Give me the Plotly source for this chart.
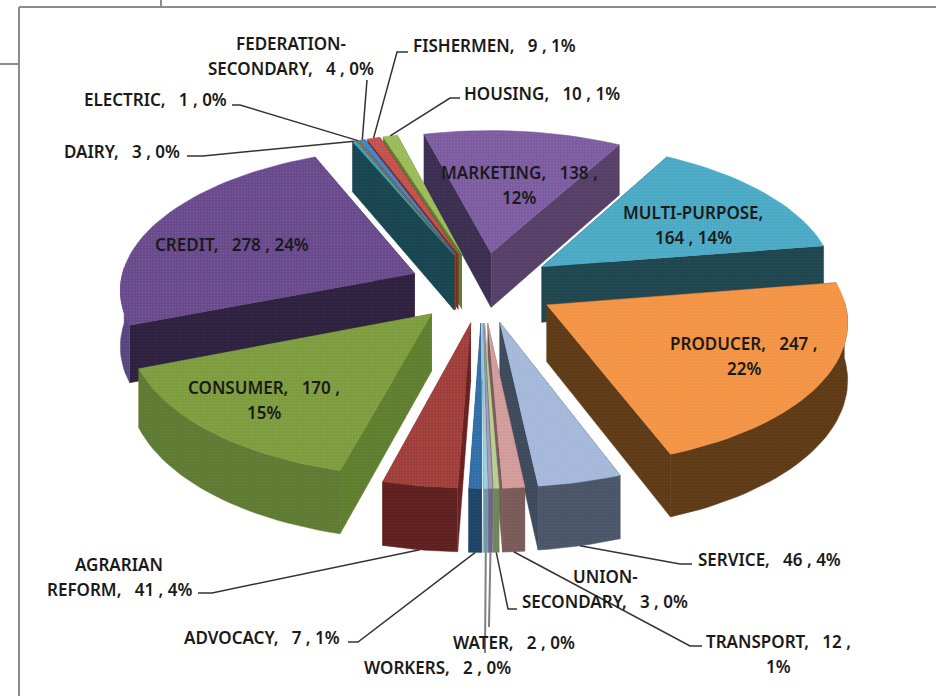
import math
import plotly.graph_objects as go

# values clockwise from the first slice (Excel keeps them alphabetical)
categories = ["ADVOCACY", "AGRARIAN REFORM", "CONSUMER", "CREDIT", "DAIRY", "ELECTRIC",
              "FEDERATION-SECONDARY", "FISHERMEN", "HOUSING", "MARKETING", "MULTI-PURPOSE",
              "PRODUCER", "SERVICE", "TRANSPORT", "UNION-SECONDARY", "WATER", "WORKERS"]
values = [7, 41, 170, 278, 3, 1, 4, 9, 10, 138, 164, 247, 46, 12, 3, 2, 2]
top_colors = ["#2f6ea8", "#9f3d3a", "#7d9c3d", "#69498c", "#3f9db5", "#c8742f", "#3f86c8",
              "#c2504c", "#9bbb59", "#7d5ba0", "#4aa9c4", "#f39343", "#a4b8da", "#d19b9a",
              "#b9cc92", "#a898c0", "#9ad0de"]
start_wall = ["#1d4468", "#6a1f1f", "#5f7f2f", "#2e2140", "#174550", "#6a3d12", "#2a5a88",
              "#7a2c2a", "#5f7a30", "#3b2e50", "#1f4650", "#5e3a16", "#3e4a5c", "#7a5a58",
              "#6f8458", "#6f6488", "#6a9aa8"]
end_wall = ["#1d4468", "#7a2a28", "#5f7f2f", "#2e2140", "#174550", "#6a3d12", "#2a5a88",
            "#7a2c2a", "#5f7a30", "#564068", "#1f4650", "#5e3a16", "#3e4a5c", "#7a5a58",
            "#6f8458", "#6f6488", "#6a9aa8"]
arc_wall = ["#1d4468", "#5e1f1f", "#5f7b33", "#5a4480", "#174550", "#6a3d12", "#2a5a88",
            "#7a2c2a", "#5f7a30", "#564068", "#1f4650", "#5e3a16", "#4a5568", "#7a5a58",
            "#6f8458", "#6f6488", "#6a9aa8"]

# text of each label, its centre, and the bend and end of its leader line
label_text = ["ADVOCACY,  7 , 1%", "AGRARIAN<br>REFORM,  41 , 4%", "CONSUMER,  170 ,<br>15%",
              "CREDIT,  278 , 24%", "DAIRY,  3 , 0%", "ELECTRIC,  1 , 0%",
              "FEDERATION-<br>SECONDARY,  4 , 0%", "FISHERMEN,  9 , 1%", "HOUSING,  10 , 1%",
              "MARKETING,  138 ,<br>12%", "MULTI-PURPOSE,<br>164 , 14%", "PRODUCER,  247 ,<br>22%",
              "SERVICE,  46 , 4%", "TRANSPORT,  12 ,<br>1%", "UNION-<br>SECONDARY,  3 , 0%",
              "WATER,  2 , 0%", "WORKERS,  2 , 0%"]
label_x = [262, 119, 264, 232, 122, 155, 291, 494, 542, 519, 693, 744, 769, 778, 605, 514, 437]
label_y = [637, 576.5, 399.5, 244, 151, 99, 55.5, 45, 93, 184.5, 224.5, 355.5, 559, 653.5, 588.5, 642, 667]
bend_x = [358, 212, None, None, 203, 240, 367, 397, 450, None, None, None, 680, 690, 508, 489, 485]
bend_y = [642, 593, None, None, 156, 105, 80, 52, 98, None, None, None, 564, 646, 609, 627, 653]
end_x = [348, 198, None, None, 187, 232, 367, 408, 460, None, None, None, 692, 702, 517, 489, 485]

CX, CY, RX, RY = 482, 287, 295, 141
PERSP, EXPLODE, DEPTH = 0.10, 0.25, 56
FIRST_ANGLE = 179.8
LINE_GAP = 25
FONT = "Noto Sans"


def project(x, y, down=0.0):
    s = 1 / (1 - PERSP * y)
    return CX + RX * x * s, CY + RY * y * s + down * DEPTH * s


def polar(a):
    return math.sin(math.radians(a)), -math.cos(math.radians(a))


def arc_angles(a0, a1):
    n = max(2, int((a1 - a0) / 2) + 2)
    return [a0 + (a1 - a0) * i / (n - 1) for i in range(n)]


total = sum(values)
slices = []
angle = FIRST_ANGLE
for i, v in enumerate(values):
    sweep = v / total * 360
    mx, my = polar(angle + sweep / 2)
    slices.append(dict(i=i, a0=angle, a1=angle + sweep, ox=EXPLODE * mx, oy=EXPLODE * my))
    angle += sweep


def add_poly(fig, pts, color, dots=0.05):
    fig.add_trace(go.Scatter(x=[p[0] for p in pts], y=[p[1] for p in pts], mode="lines",
                             fill="toself", fillcolor=color, line=dict(width=0.5, color=color),
                             fillpattern=dict(shape=".", size=3, solidity=0.2, bgcolor=color,
                                              fgcolor="#ffffff", fgopacity=dots),
                             hoverinfo="skip", showlegend=False))


def rim(s, a, down=0.0):
    x, y = polar(a)
    return project(s["ox"] + x, s["oy"] + y, down)


fig = go.Figure()
for s in sorted(slices, key=lambda t: t["oy"]):
    i = s["i"]
    apex_t = project(s["ox"], s["oy"])
    apex_b = project(s["ox"], s["oy"], 1)
    walls = [(s["a0"], start_wall[i]), (s["a1"], end_wall[i])]
    for a, c in sorted(walls, key=lambda q: polar(q[0])[1]):
        add_poly(fig, [apex_t, rim(s, a), rim(s, a, 1), apex_b], c)
    front = [a for a in arc_angles(s["a0"], s["a1"]) if polar(a)[1] > -0.05]
    if len(front) > 1:
        add_poly(fig, [rim(s, a) for a in front] + [rim(s, a, 1) for a in reversed(front)], arc_wall[i])
    add_poly(fig, [apex_t] + [rim(s, a) for a in arc_angles(s["a0"], s["a1"])], top_colors[i], 0.1)

# leader lines run from the slice rim to a short stub beside the label
for s in slices:
    i = s["i"]
    if bend_x[i] is None:
        continue
    mid = (s["a0"] + s["a1"]) / 2
    start = rim(s, mid, 1 if polar(mid)[1] > 0 else 0)
    grey = categories[i] in ("WATER", "WORKERS")
    fig.add_trace(go.Scatter(x=[start[0], bend_x[i], end_x[i]], y=[start[1], bend_y[i], bend_y[i]],
                             mode="lines", line=dict(color="#808080" if grey else "#333333", width=2 if grey else 1.5),
                             hoverinfo="skip", showlegend=False))

# two-line labels sit further apart than plotly's own line height, so each line is placed alone
for i, t in enumerate(label_text):
    lines = t.split("<br>")
    for j, line in enumerate(lines):
        fig.add_annotation(x=label_x[i], y=label_y[i] + (j - (len(lines) - 1) / 2) * LINE_GAP,
                           text=line.replace("  ", "\u00a0\u00a0\u00a0"), showarrow=False,
                           font=dict(family=FONT, size=17, color="#1a1a1a", weight=600))

frame = dict(type="line", line=dict(color="#8c8c8c", width=2))
fig.update_layout(
    width=936, height=696, margin=dict(l=0, r=0, t=0, b=0), showlegend=False,
    paper_bgcolor="white", plot_bgcolor="white",
    xaxis=dict(range=[0, 936], visible=False, fixedrange=True),
    yaxis=dict(range=[696, 0], visible=False, fixedrange=True),
    shapes=[dict(frame, x0=19, x1=936, y0=7, y1=7), dict(frame, x0=19, x1=19, y0=7, y1=696),
            dict(frame, x0=161, x1=161, y0=0, y1=7), dict(frame, x0=0, x1=19, y0=64, y1=64)],
)
fig.write_html("out.html", config={"displayModeBar": False},
               post_script="document.body.style.margin='0';")
